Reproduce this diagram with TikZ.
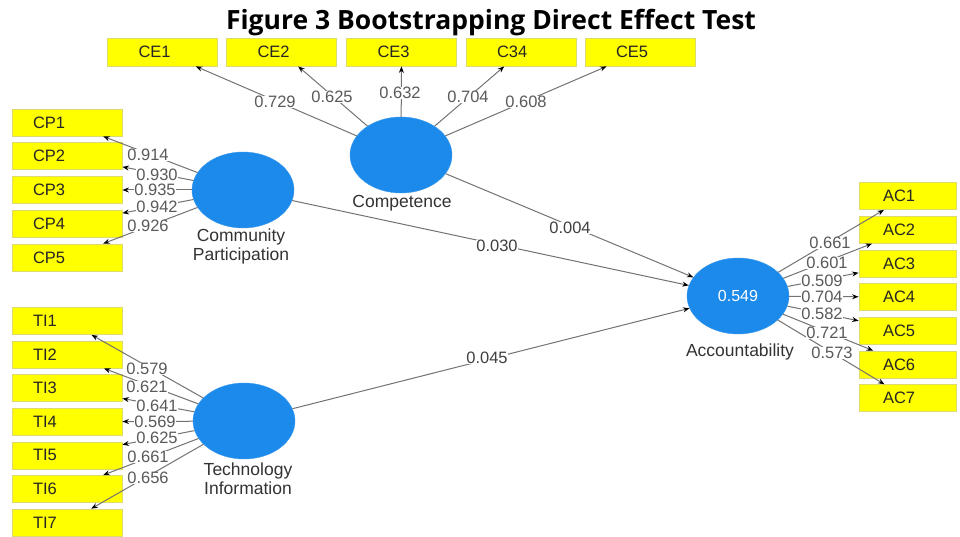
\documentclass[tikz,border=0pt]{standalone}
\usepackage{fontspec}
\setmainfont{Liberation Sans}
\newfontfamily\titlefont{Open Sans}
\usetikzlibrary{shapes.geometric,arrows.meta}
\definecolor{boxyellow}{RGB}{255,255,0}
\definecolor{boxedge}{RGB}{220,220,110}
\definecolor{lvblue}{RGB}{28,138,235}
\definecolor{edgegray}{RGB}{115,115,115}
\definecolor{labgray}{RGB}{90,90,90}
\begin{document}
\begin{tikzpicture}[x=1pt,y=-1pt,
  ind/.style={draw=boxedge, fill=boxyellow, line width=0.8pt, rectangle,
    minimum height=27pt, align=left, font=\fontsize{16.5}{16.5}\selectfont, text=black!85},
  cebox/.style={ind, minimum height=28pt, inner xsep=31pt, text width=48pt},
  cpbox/.style={ind, inner xsep=21pt, text width=68pt},
  acbox/.style={ind, inner xsep=24pt, text width=49pt},
  lv/.style={ellipse, fill=lvblue, draw=lvblue!85!white, minimum width=102pt,
    minimum height=76pt, inner sep=0pt},
  lvname/.style={font=\fontsize{17.5}{19}\selectfont, text=black!80, align=center},
  ld/.style={draw=edgegray, line width=1pt, -{Stealth[color=black,length=6.5pt,width=5pt]}},
  coef/.style={fill=white, inner sep=0.6pt, text=labgray, font=\fontsize{16.5}{16.5}\selectfont},
  pcoef/.style={coef, text=black!75}
]
\useasboundingbox (0,0) rectangle (960,537);
\fill[white] (0,0) rectangle (960,537);

% title
\node[font=\titlefont\bfseries\fontsize{26.5}{28}\selectfont, anchor=base] (title) at (491,30)
  {Figure 3 Bootstrapping Direct Effect Test};

% latent variables
\node[lv] (comp) at (401,155) {};
\node[lv] (cp) at (243,190) {};
\node[lv] (ti) at (244,421) {};
\node[lv, text=white, font=\fontsize{16}{16}\selectfont] (acc) at (738,296) {0.549};

\node[lvname] (compn) at (402,203) {Competence};
\node[lvname] (cpn) at (241,246) {Community\\Participation};
\node[lvname] (tin) at (248,479) {Technology\\Information};
\node[lvname] (accn) at (740,352) {Accountability};

% indicators
\node[cebox] (ce1) at (162.5,52) {CE1};
\node[cebox] (ce2) at (281.5,52) {CE2};
\node[cebox] (ce3) at (401.5,52) {CE3};
\node[cebox] (ce4) at (521,52) {C34};
\node[cebox] (ce5) at (640,52) {CE5};

\foreach \i in {1,...,5}
  \node[cpbox] (cp\i) at (67,{122.5+33.75*(\i-1)}) {CP\i};
\foreach \i in {1,...,7}
  \node[cpbox] (ti\i) at (67,{321+33.6*(\i-1)}) {TI\i};
\foreach \i in {1,...,7}
  \node[acbox] (ac\i) at (907.5,{196+33.7*(\i-1)}) {AC\i};

% outer loadings
\foreach \i in {1,...,5} \draw[ld] (comp) -- (ce\i);
\foreach \i in {1,...,5} \draw[ld] (cp) -- (cp\i);
\foreach \i in {1,...,7} \draw[ld] (ti) -- (ti\i);
\foreach \i in {1,...,7} \draw[ld] (acc) -- (ac\i);

% structural paths
\draw[ld] (comp) -- (acc);
\draw[ld] (cp) -- (acc);
\draw[ld] (ti) -- (acc);

% coefficients
\node[coef] (lce1) at (275,102) {0.729};
\node[coef] (lce2) at (332,97) {0.625};
\node[coef] (lce3) at (400,93) {0.632};
\node[coef] (lce4) at (468,97) {0.704};
\node[coef] (lce5) at (526,102) {0.608};

\node[coef] (lcp1) at (148,155) {0.914};
\node[coef] (lcp2) at (157,175) {0.930};
\node[coef] (lcp3) at (155,190) {0.935};
\node[coef] (lcp4) at (157,207) {0.942};
\node[coef] (lcp5) at (148,226) {0.926};

\node[coef] (lti1) at (147,369) {0.579};
\node[coef] (lti2) at (147,387) {0.621};
\node[coef] (lti3) at (157,406) {0.641};
\node[coef] (lti4) at (155,422) {0.569};
\node[coef] (lti5) at (157,438) {0.625};
\node[coef] (lti6) at (148,457) {0.661};
\node[coef] (lti7) at (148,478) {0.656};

\node[coef] (lac1) at (830,243) {0.661};
\node[coef] (lac2) at (827,263) {0.601};
\node[coef] (lac3) at (822,281) {0.509};
\node[coef] (lac4) at (822,297) {0.704};
\node[coef] (lac5) at (822,314) {0.582};
\node[coef] (lac6) at (827,333) {0.721};
\node[coef] (lac7) at (832,353) {0.573};

\node[pcoef] (lp1) at (570,228) {0.004};
\node[pcoef] (lp2) at (497,246) {0.030};
\node[pcoef] (lp3) at (487,358) {0.045};
\end{tikzpicture}
\end{document}
